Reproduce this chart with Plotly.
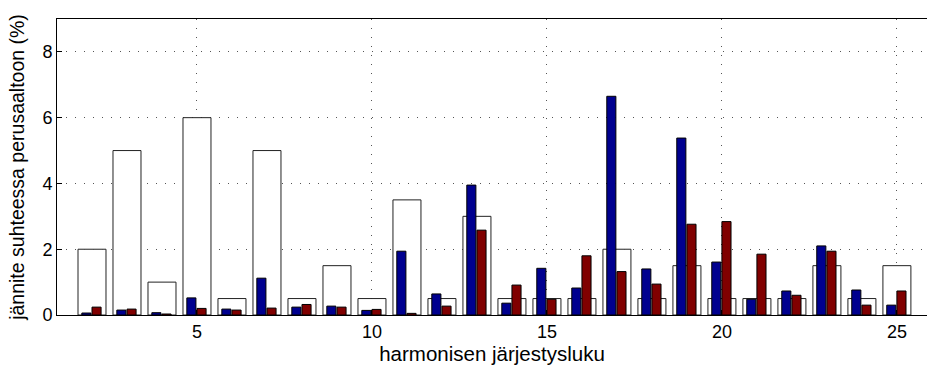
import plotly.graph_objects as go

# Harmonic orders and voltage levels relative to the fundamental (%)
harmonics = list(range(2, 26))
limits = [2, 5, 1, 6, 0.5, 5, 0.5, 1.5, 0.5, 3.5, 0.5, 3, 0.5, 0.5, 0.5, 2, 0.5, 1.5,
          0.5, 0.5, 0.5, 1.5, 0.5, 1.5]
measured_a = [0.06, 0.15, 0.07, 0.52, 0.18, 1.12, 0.24, 0.27, 0.14, 1.94, 0.64, 3.95,
              0.36, 1.42, 0.82, 6.65, 1.40, 5.38, 1.61, 0.48, 0.73, 2.10, 0.76, 0.30]
measured_b = [0.24, 0.18, 0.03, 0.20, 0.15, 0.21, 0.32, 0.24, 0.17, 0.05, 0.27, 2.58,
              0.91, 0.48, 1.80, 1.32, 0.94, 2.76, 2.84, 1.85, 0.60, 1.94, 0.30, 0.73]
x_ticks = [5, 10, 15, 20, 25]
y_ticks = [0, 2, 4, 6, 8]

FONT = "Liberation Sans, Arial, Helvetica, sans-serif"
GRID_DASH = "1px,8px"

fig = go.Figure()
fig.add_trace(go.Bar(
    x=harmonics, y=limits, width=0.8, offset=-0.4,
    marker=dict(color="white", line=dict(color="#222222", width=1)),
    showlegend=False,
))
fig.add_trace(go.Bar(
    x=harmonics, y=measured_a, width=0.26, offset=-0.29,
    marker=dict(color="#00008f", line=dict(color="#000000", width=1)),
    showlegend=False,
))
fig.add_trace(go.Bar(
    x=harmonics, y=measured_b, width=0.26, offset=0.0,
    marker=dict(color="#800000", line=dict(color="#000000", width=1)),
    showlegend=False,
))

fig.update_layout(
    width=927, height=367,
    margin=dict(l=57, r=0, t=19, b=52),
    barmode="overlay",
    plot_bgcolor="white", paper_bgcolor="white",
    font=dict(family=FONT, size=18, color="#000000"),
    xaxis=dict(
        range=[1, 25.86], tickvals=x_ticks,
        showline=True, linecolor="black", linewidth=1, mirror=True,
        ticks="inside", ticklen=5, tickcolor="black",
        showgrid=True, gridcolor="#555555", griddash=GRID_DASH, gridwidth=1,
        zeroline=False,
        title=dict(text="harmonisen järjestysluku", font=dict(size=20.5), standoff=5),
        tickfont=dict(size=18),
    ),
    yaxis=dict(
        range=[0, 9], tickvals=y_ticks,
        showline=True, linecolor="black", linewidth=1, mirror=False,
        ticks="inside", ticklen=5, tickcolor="black",
        showgrid=True, gridcolor="#555555", griddash=GRID_DASH, gridwidth=1,
        zeroline=False,
        title=dict(text="jännite suhteessa perusaaltoon (%)", font=dict(size=19.5), standoff=12),
        tickfont=dict(size=18),
    ),
)

fig.write_html("out.html")
